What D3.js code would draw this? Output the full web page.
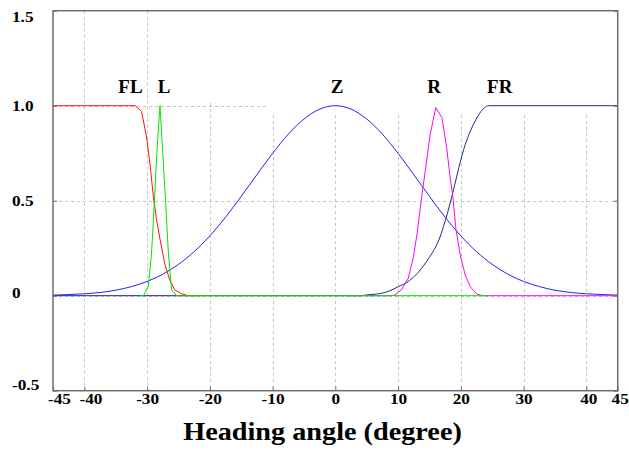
<!DOCTYPE html>
<html>
<head>
<meta charset="utf-8">
<script src="https://cdn.jsdelivr.net/npm/d3@7"></script>
<style>
  html, body { margin: 0; padding: 0; background: #ffffff; }
  svg { display: block; }
  svg text { font-family: "Liberation Serif", "DejaVu Serif", serif !important; font-weight: bold; fill: #000; }
</style>
</head>
<body>
<svg id="chart" width="629" height="450"></svg>
<script>
// ---------- data ----------
const xTickValues = [-45, -40, -30, -20, -10, 0, 10, 20, 30, 40, 45];
const xTickLabels = ["-45", "-40", "-30", "-20", "-10", "0", "10", "20", "30", "40", "45"];
const yTickValues = [-0.5, 0, 0.5, 1.0, 1.5];
const yTickLabels = ["-0.5", "0", "0.5", "1.0", "1.5"];
const xGridValues = [-40, -30, -20, -10, 0, 10, 20, 30, 40];

const seriesNames = ["FL", "L", "Z", "R", "FR"];

const flX = [-45, -40, -35, -32, -31.9, -30.9, -30.1, -29.5, -29.0, -28.5, -27.9, -27.2, -26.4, -25.6, -24.5, -23.5, -22];
const flY = [1, 1, 1, 1, 1, 0.97, 0.84, 0.68, 0.52, 0.40, 0.29, 0.17, 0.083, 0.03, 0.01, 0, 0];

const lX = [-31, -30.6, -29.8, -29.3, -28.85, -28.45, -27.95, -27.5, -27.05, -26.6, -26.1, -25.3, 24.6];
const lY = [0, 0, 0.05, 0.22, 0.49, 0.75, 1.0, 0.75, 0.49, 0.22, 0.03, 0, 0];

const zX = [-45, -42.5, -40, -37.5, -35, -32.5, -30, -27.5, -25, -22.5, -20, -17.5, -15, -12.5, -10, -7.5, -5, -2.5, 0,
            2.5, 5, 7.5, 10, 12.5, 15, 17.5, 20, 22.5, 25, 27.5, 30, 32.5, 35, 37.5, 40, 42.5, 45];
const zY = [0.003, 0.006, 0.010, 0.017, 0.029, 0.048, 0.075, 0.113, 0.165, 0.232, 0.315, 0.413, 0.523, 0.637, 0.749, 0.850, 0.930, 0.982, 1.0,
            0.982, 0.930, 0.850, 0.749, 0.637, 0.523, 0.413, 0.315, 0.232, 0.165, 0.113, 0.075, 0.048, 0.029, 0.017, 0.010, 0.006, 0.003];

const rX = [2, 9, 9.5, 10.5, 11.6, 12.4, 13, 13.8, 14.3, 15.1, 16, 17, 17.75, 18.3, 18.7, 19.2, 19.9, 20.7, 21.5, 22.5, 23.5, 45];
const rY = [0, 0, 0.004, 0.03, 0.09, 0.197, 0.32, 0.53, 0.65, 0.846, 0.99, 0.937, 0.776, 0.62, 0.53, 0.355, 0.214, 0.109, 0.047, 0.01, 0, 0];

const frX = [-45, 4, 5, 6, 7.1, 8.7, 10, 11.4, 13, 14.5, 15.5, 16.5, 17.25, 18, 18.7, 19.4, 20, 20.7, 21.5, 22.3, 23, 23.8, 24.4, 45];
const frY = [0, 0, 0.004, 0.007, 0.011, 0.026, 0.047, 0.07, 0.115, 0.178, 0.228, 0.293, 0.365, 0.45, 0.54, 0.635, 0.715, 0.795, 0.865, 0.92, 0.96, 0.99, 1.0, 1.0];

// label anchor positions (data coordinates)
const labelX = [-32.65, -27.3, 0.27, 15.73, 26.2];
const labelY = [1.067, 1.067, 1.067, 1.067, 1.067];

const titleText = "Heading angle (degree)";

// ---------- layout ----------
const svg = d3.select("#chart");
const x = d3.scaleLinear().domain([-45, 45]).range([53, 617.7]);
const y = d3.scaleLinear().domain([-0.5, 1.5]).range([390.7, 10.7]);

const gridColor = "#c4c4c4";
const frameColor = "#6e6e6e";
const serif = '"Liberation Serif", "DejaVu Serif", serif';

svg.append("defs").append("clipPath").attr("id", "plotclip")
  .append("rect").attr("x", x(-45)).attr("y", y(1.5))
  .attr("width", x(45) - x(-45)).attr("height", y(-0.5) - y(1.5));

// grid (partially masked in the reference at the top-right)
const grid = svg.append("g").attr("stroke", gridColor).attr("stroke-width", 1)
  .attr("stroke-dasharray", "3,3").attr("fill", "none");
const gridTop = v => v <= -30 ? 1.5 : (v === -20 ? 1.014 : 0.951);
grid.selectAll("line.v").data(xGridValues).join("line").attr("class", "v")
  .attr("x1", d => Math.round(x(d)) + 0.5).attr("x2", d => Math.round(x(d)) + 0.5)
  .attr("y1", d => y(gridTop(d))).attr("y2", y(-0.5));
grid.append("line").attr("x1", x(-45)).attr("x2", x(45))
  .attr("y1", Math.round(y(0.5)) + 0.5).attr("y2", Math.round(y(0.5)) + 0.5);
grid.append("line").attr("x1", x(-45)).attr("x2", x(45))
  .attr("y1", Math.round(y(0)) + 0.5).attr("y2", Math.round(y(0)) + 0.5);
grid.append("line").attr("x1", x(-45)).attr("x2", x(-10.6))
  .attr("y1", Math.round(y(1.0)) + 0.5).attr("y2", Math.round(y(1.0)) + 0.5);

// curves
const seriesData = [
  { name: "Z", xs: zX, ys: zY, color: "#2020ff", curve: d3.curveMonotoneX },
  { name: "FR", xs: frX, ys: frY, color: "#26268c", curve: d3.curveMonotoneX },
  { name: "R", xs: rX, ys: rY, color: "#ff00ff", curve: d3.curveLinear },
  { name: "FL", xs: flX, ys: flY, color: "#ff1010", curve: d3.curveLinear },
  { name: "L", xs: lX, ys: lY, color: "#00e600", curve: d3.curveLinear }
];
const plot = svg.append("g").attr("clip-path", "url(#plotclip)");
seriesData.forEach(s => {
  const pts = s.xs.map((v, i) => [v, s.ys[i]]);
  const line = d3.line().x(d => x(d[0])).y(d => y(d[1])).curve(s.curve);
  plot.append("path").datum(pts).attr("d", line)
    .attr("fill", "none").attr("stroke", s.color).attr("stroke-width", 1)
    .attr("stroke-linejoin", "round");
});

// frame
svg.append("rect").attr("x", x(-45)).attr("y", y(1.5))
  .attr("width", x(45) - x(-45)).attr("height", y(-0.5) - y(1.5))
  .attr("fill", "none").attr("stroke", frameColor).attr("stroke-width", 1.5);

// axes
const xAxis = d3.axisBottom(x).tickValues(xTickValues)
  .tickFormat((d, i) => xTickLabels[i]).tickSize(-4).tickPadding(3);
const gx = svg.append("g").attr("transform", `translate(0,${y(-0.5)})`).call(xAxis);
gx.attr("font-family", null);
gx.select(".domain").remove();
gx.selectAll(".tick line").attr("stroke", frameColor);
const xNudge = { "-45": 6, "-40": 6, "45": 2, "40": 2 };
gx.selectAll(".tick text")
  .style("font-family", serif)
  .style("font-weight", "bold")
  .style("font-size", "15px")
  .attr("fill", "#000")
  .attr("transform", d => `translate(${xNudge[String(d)] || 0},0) scale(1.15,1)`);

const yAxis = d3.axisLeft(y).tickValues(yTickValues)
  .tickFormat((d, i) => yTickLabels[i]).tickSize(-4).tickPadding(0);
const gy = svg.append("g").attr("transform", `translate(${x(-45)},0)`).call(yAxis);
gy.attr("font-family", null);
gy.select(".domain").remove();
gy.selectAll(".tick line").attr("stroke", frameColor);
const yNudge = { "1.5": 5.5, "0": -3, "-0.5": -5.7 };
gy.selectAll(".tick text")
  .style("font-family", serif)
  .style("font-weight", "bold")
  .style("font-size", "15px")
  .attr("fill", "#000")
  .attr("text-anchor", "start")
  .attr("x", 0)
  .attr("transform", d => `translate(${12 - x(-45)},${yNudge[String(d)] || 0}) scale(1.15,1)`);

// right-side ticks
const gr = svg.append("g").attr("transform", `translate(${x(45)},0)`)
  .call(d3.axisRight(y).tickValues(yTickValues).tickSize(-4).tickFormat(""));
gr.select(".domain").remove();
gr.selectAll(".tick line").attr("stroke", frameColor);

// series labels
svg.append("g").selectAll("text").data(seriesNames).join("text")
  .attr("x", (d, i) => x(labelX[i])).attr("y", (d, i) => y(labelY[i]))
  .attr("text-anchor", "middle")
  .style("font-family", serif).style("font-weight", "bold").style("font-size", "19px")
  .text(d => d);

// axis title
svg.append("text")
  .attr("transform", `translate(322.5,440) scale(1.13,1)`)
  .attr("text-anchor", "middle")
  .style("font-family", serif).style("font-weight", "bold").style("font-size", "25px")
  .text(titleText);
</script>
</body>
</html>
